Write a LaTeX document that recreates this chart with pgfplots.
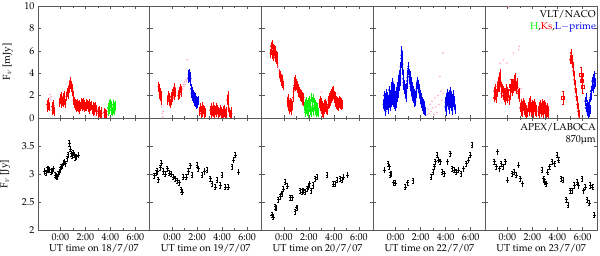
\documentclass[border=0pt]{standalone}
\usepackage[T1]{fontenc}
\usepackage{mathpazo}
\usepackage{xcolor}
\usepackage{pgfplots}
\pgfplotsset{compat=1.18}
\usepgfplotslibrary{groupplots}
\definecolor{ksred}{rgb}{1,0,0}
\definecolor{hgreen}{rgb}{0.05,0.95,0.05}
\definecolor{lblue}{rgb}{0,0,0.95}
\definecolor{pinkish}{rgb}{1,0.68,0.8}
\definecolor{frame}{rgb}{0.35,0.35,0.35}
\pgfplotsset{
  naco/.style={only marks, mark=*, mark size=0.75pt, color=#1,
    error bars/.cd, y dir=both, y fixed=0.4, error mark=none,
    error bar style={line width=0.4pt}},
  faint/.style={only marks, mark=*, mark size=0.6pt, color=pinkish},
  laboca/.style={only marks, mark=+, mark size=1.3pt, color=black,
    mark options={line width=0.5pt},
    error bars/.cd, y dir=both, y fixed=0.045,
    error bar style={line width=0.4pt},
    error mark options={rotate=90, mark size=0.9pt, line width=0.4pt}},
}
\begin{document}
\begin{tikzpicture}
\begin{groupplot}[
  group style={group size=5 by 2, horizontal sep=0pt, vertical sep=0pt,
    x descriptions at=edge bottom, y descriptions at=edge left},
  scale only axis, width=111.8pt, height=112pt,
  xmin=-1.78, xmax=7.16,
  xtick={0,2,4,6}, xticklabels={0:00,2:00,4:00,6:00},
  minor x tick num=1,
  axis line style={frame, line width=0.8pt},
  tick style={frame, line width=0.5pt},
  major tick length=3pt, minor tick length=2pt,
  tick align=inside,
  xlabel style={yshift=3pt},
  ylabel style={yshift=5pt},
]
% ---------------- top row ----------------
\nextgroupplot[ymin=0, ymax=10, ytick={0,2,4,6,8,10}, ylabel={F$_\nu$ [mJy]}]
\addplot[faint] coordinates {(-0.85,1.8) (-0.8,2.1) (-0.76,1.6) (-0.72,1.9)};
\addplot[naco=ksred] coordinates {
(-1.05,1.2) (-1.02,0.9) (-0.99,1.4) (-0.96,1.1) (-0.93,1.3) (-0.9,1.0)
(-0.65,1.0) (-0.62,0.7) (-0.59,1.2) (-0.56,0.8) (-0.53,1.1) (-0.5,0.6)
(-0.05,1.4) (0,1.7) (0.05,1.3) (0.1,1.9) (0.15,1.5) (0.2,1.8) (0.25,1.4) (0.3,2.0) (0.35,1.6) (0.4,1.3)
(0.5,1.9) (0.55,2.3) (0.6,2.1) (0.65,2.5) (0.7,2.6) (0.74,2.9) (0.78,3.3) (0.82,3.0) (0.86,2.7) (0.9,2.9) (0.94,2.4) (0.98,2.6)
(1.02,2.0) (1.06,1.6) (1.1,1.3) (1.14,1.5) (1.18,1.1) (1.22,1.3) (1.26,0.9) (1.3,1.2) (1.34,1.0) (1.38,1.3) (1.42,0.9) (1.46,1.1) (1.5,1.2) (1.54,0.8) (1.58,1.0)
(1.66,1.2) (1.7,1.4) (1.74,1.0) (1.78,1.3) (1.82,1.1) (1.86,1.4) (1.9,0.9) (1.94,1.2) (1.98,1.0)
(2.05,1.3) (2.1,1.0) (2.15,1.2) (2.2,0.9) (2.25,1.1) (2.3,1.3) (2.35,0.8) (2.4,1.0) (2.45,1.1)
(2.55,0.8) (2.6,1.0) (2.65,0.6) (2.7,0.9) (2.75,0.7) (2.8,1.0) (2.85,0.6) (2.9,0.8)
(3.0,0.6) (3.05,0.4) (3.1,0.7) (3.15,0.5) (3.2,0.3) (3.25,0.6) (3.3,0.4)
(3.5,0.5) (3.55,0.2) (3.6,0.4) (3.65,0.1) (3.7,0.3)};
\addplot[naco=hgreen] coordinates {
(3.8,0.9) (3.85,0.6) (3.9,1.2) (3.95,0.8) (4.0,1.3) (4.05,0.7) (4.1,1.1) (4.15,0.6) (4.2,1.2) (4.25,0.8) (4.3,1.0) (4.35,0.7) (4.4,1.1)};

\nextgroupplot[ymin=0, ymax=10, ytick={0,2,4,6,8,10}]
\addplot[faint] coordinates {(-0.82,1.0) (-0.78,0.4) (-0.74,0.1) (-0.7,0.6)
(0.85,2.6) (0.9,3.0) (0.95,2.8) (1.0,3.2) (1.05,3.0) (1.1,3.4) (1.15,3.3) (1.2,5.2) (1.25,3.6)};
\addplot[naco=ksred] coordinates {
(-1.08,2.8) (-1.05,2.4) (-1.02,2.6) (-0.99,2.1) (-0.96,2.3) (-0.93,1.9) (-0.9,2.0) (-0.87,1.6)
(-0.35,1.6) (-0.3,2.0) (-0.25,1.5) (-0.2,1.8) (-0.15,1.3) (-0.1,1.9) (-0.05,1.6) (0,2.2) (0.05,1.8) (0.1,2.4) (0.15,2.0) (0.2,2.7) (0.25,2.3)
(0.5,2.0) (0.55,2.4) (0.6,2.1) (0.65,2.6) (0.7,2.3) (0.75,2.5)
(2.2,0.6) (2.25,0.9) (2.3,0.4) (2.35,0.7) (2.4,1.0) (2.45,0.5) (2.5,0.8) (2.55,0.4) (2.6,0.7) (2.65,0.5)
(3.06,0.7) (3.1,0.4) (3.15,0.9) (3.2,0.6) (3.25,1.0) (3.3,0.5) (3.35,0.8) (3.4,0.4) (3.45,0.7) (3.5,0.9) (3.55,0.5) (3.6,0.8) (3.65,0.4) (3.7,0.6)
(3.8,0.5) (3.85,0.8) (3.9,0.3) (3.95,0.6) (4.0,0.4) (4.05,0.7) (4.1,0.3) (4.15,0.5) (4.2,0.8) (4.25,0.4) (4.3,0.6) (4.35,0.3)
(4.42,1.6) (4.45,2.0) (4.48,1.4) (4.52,0.9)
(4.6,0.5) (4.65,0.3) (4.7,0.6) (4.75,0.4)};
\addplot[naco=lblue] coordinates {
(1.3,3.5) (1.33,3.9) (1.36,3.6) (1.39,4.0) (1.42,3.7) (1.45,3.3) (1.48,3.5)
(1.52,2.6) (1.56,2.2) (1.6,2.4) (1.64,1.9) (1.68,2.1) (1.72,1.7) (1.76,1.9) (1.8,1.5) (1.84,1.8) (1.88,1.4) (1.92,1.6) (1.96,1.2) (2.0,1.5) (2.04,1.3) (2.08,1.6)};

\nextgroupplot[ymin=0, ymax=10, ytick={0,2,4,6,8,10}]
\addplot[faint] coordinates {(-0.45,4.6) (-0.4,4.3) (3.0,2.3) (4.3,2.2)};
\addplot[naco=ksred] coordinates {
(-1.08,5.8) (-1.04,6.4) (-1.0,6.0) (-0.96,6.6) (-0.92,5.7) (-0.88,6.2) (-0.84,5.5) (-0.8,6.1) (-0.76,5.9) (-0.72,5.4) (-0.68,6.0) (-0.64,5.6) (-0.6,5.2) (-0.56,5.5) (-0.52,4.9)
(-0.34,4.0) (-0.3,3.6) (-0.26,3.8) (-0.22,3.3) (-0.18,3.5) (-0.14,3.1) (-0.1,3.4) (-0.06,2.9)
(0.3,1.5) (0.34,1.0) (0.38,1.7) (0.42,1.2) (0.46,0.8) (0.5,1.4) (0.54,0.9) (0.58,1.3) (0.62,0.7) (0.66,1.1)
(0.74,1.8) (0.78,2.4) (0.82,2.9) (0.86,3.3) (0.9,2.8) (0.94,3.4) (0.98,2.9) (1.02,3.1) (1.06,2.6) (1.1,2.9) (1.14,2.3)
(1.18,2.6) (1.22,2.2) (1.26,2.4) (1.3,1.9) (1.34,2.2) (1.38,1.8) (1.42,2.1) (1.46,1.6) (1.5,1.9) (1.54,1.5) (1.58,1.8)
(2.86,1.3) (2.9,1.6) (2.94,1.0) (2.98,1.4) (3.02,0.8) (3.06,1.1) (3.1,0.5) (3.14,0.9) (3.18,0.4) (3.22,0.8) (3.26,1.2) (3.3,0.9) (3.34,1.3) (3.38,0.8) (3.42,1.1) (3.46,0.7)
(3.52,1.2) (3.56,1.6) (3.6,1.3) (3.64,1.8) (3.68,1.5) (3.72,2.0) (3.76,1.7) (3.8,2.2) (3.84,1.9) (3.88,2.4) (3.92,2.1) (3.96,2.5) (4.0,2.0) (4.04,1.7) (4.08,1.9) (4.12,1.4) (4.16,1.6) (4.2,1.2) (4.24,1.5) (4.28,1.1) (4.32,1.4) (4.36,1.0) (4.4,1.3) (4.44,1.6) (4.48,1.2) (4.52,1.5) (4.56,1.1) (4.6,1.4) (4.64,1.2)};
\addplot[naco=hgreen] coordinates {
(1.65,1.0) (1.69,0.5) (1.73,1.3) (1.77,0.8) (1.81,1.5) (1.85,0.6) (1.89,1.2) (1.93,0.4) (1.97,1.4) (2.01,0.9) (2.05,1.6) (2.09,0.7) (2.13,1.3) (2.17,0.5) (2.21,1.8) (2.25,1.0) (2.29,1.5) (2.33,0.6) (2.37,1.7) (2.41,1.1) (2.45,1.4) (2.49,0.7) (2.53,1.2) (2.57,0.5) (2.61,1.0) (2.65,0.6) (2.69,0.9) (2.73,0.5)};

\nextgroupplot[ymin=0, ymax=10, ytick={0,2,4,6,8,10}]
\addplot[faint] coordinates {
(2.5,0.3) (2.58,0.8) (2.66,0.4) (2.74,1.2) (2.82,0.6) (2.9,1.5) (2.98,0.9) (3.06,0.3) (3.14,1.8) (3.22,1.0) (3.3,0.5) (3.38,2.0) (3.46,1.2) (3.54,3.7) (3.62,2.4) (3.7,1.6) (3.78,5.8) (3.8,2.2)};
\addplot[naco=lblue] coordinates {
(-0.96,1.2) (-0.92,2.0) (-0.88,1.0) (-0.84,1.8) (-0.8,0.6) (-0.76,1.5) (-0.72,2.2) (-0.68,1.1) (-0.64,1.9) (-0.6,0.8) (-0.56,1.6) (-0.52,2.5) (-0.48,1.3) (-0.44,2.1) (-0.4,1.0) (-0.36,1.8) (-0.32,2.8) (-0.28,1.6) (-0.24,3.2) (-0.2,2.2) (-0.16,1.4) (-0.12,2.6) (-0.08,1.2) (-0.04,2.0) (0.0,1.0) (0.04,1.7) (0.08,2.4) (0.12,1.8) (0.16,2.8) (0.2,2.2) (0.24,3.4) (0.28,2.8) (0.32,3.9) (0.36,3.3) (0.4,4.6) (0.44,5.3) (0.48,6.0) (0.5,5.6) (0.54,4.8) (0.58,3.9) (0.62,3.2) (0.66,2.6) (0.7,3.0) (0.74,2.2) (0.78,2.6) (0.82,1.8) (0.86,2.4) (0.9,3.0) (0.94,3.6) (0.98,4.2) (1.02,4.6) (1.06,4.0) (1.1,3.4) (1.14,3.8) (1.18,2.8) (1.22,3.3) (1.26,2.4) (1.3,2.8) (1.34,1.9) (1.38,2.5) (1.42,1.7) (1.46,2.2) (1.5,1.4) (1.54,2.0) (1.58,1.5) (1.62,2.2) (1.66,2.6) (1.7,3.0) (1.74,3.3) (1.78,2.7) (1.82,3.0) (1.86,2.3) (1.9,2.6) (1.94,1.8) (1.98,2.1) (2.02,1.3) (2.06,1.8) (2.1,1.0) (2.14,1.5) (2.18,0.8) (2.22,1.3) (2.26,0.7) (2.3,1.1) (2.34,0.6)
(3.97,1.0) (4.01,1.8) (4.05,0.6) (4.09,1.5) (4.13,2.2) (4.17,1.2) (4.21,1.9) (4.25,0.8) (4.29,1.6) (4.33,2.4) (4.37,1.3) (4.41,2.0) (4.45,1.0) (4.49,1.7) (4.53,0.7) (4.57,1.4) (4.61,2.1) (4.65,1.1) (4.69,1.6) (4.73,0.8)};
\addplot[naco=lblue] coordinates {
(-0.94,1.6) (-0.9,1.4) (-0.86,1.3) (-0.82,1.2) (-0.78,1.1) (-0.74,1.9) (-0.7,1.6) (-0.66,1.5) (-0.62,1.3) (-0.58,1.2) (-0.54,2.0) (-0.5,1.9) (-0.46,1.7) (-0.42,1.5) (-0.38,1.4) (-0.34,2.3) (-0.3,2.2) (-0.26,2.4) (-0.22,2.7) (-0.18,1.8) (-0.14,2.0) (-0.1,1.9) (-0.06,1.6) (-0.02,1.5) (0.02,1.3) (0.06,2.0) (0.1,2.1) (0.14,2.3) (0.18,2.5) (0.22,2.8) (0.26,3.1) (0.3,3.3) (0.34,3.6) (0.38,4.0) (0.42,4.9) (0.46,5.6) (0.52,5.2) (0.56,4.3) (0.6,3.5) (0.64,2.9) (0.68,2.8) (0.72,2.6) (0.76,2.4) (0.8,2.2) (0.84,2.1) (0.88,2.7) (0.92,3.3) (0.96,3.9) (1.0,4.4) (1.04,4.3) (1.08,3.7) (1.12,3.6) (1.16,3.3) (1.2,3.0) (1.24,2.8) (1.28,2.6) (1.32,2.3) (1.36,2.2) (1.4,2.1) (1.44,1.9) (1.48,1.8) (1.52,1.7) (1.56,1.7) (1.6,1.8) (1.64,2.4) (1.68,2.8) (1.72,3.1) (1.76,3.0) (1.8,2.8) (1.84,2.6) (1.88,2.4) (1.92,2.2) (1.96,1.9) (2.0,1.7) (2.04,1.5) (2.08,1.4) (2.12,1.2) (2.16,1.1) (2.2,1.0) (2.24,1.0) (2.28,0.9) (2.32,0.8)
(3.99,1.4) (4.03,1.2) (4.07,1.0) (4.11,1.8) (4.15,1.7) (4.19,1.5) (4.23,1.3) (4.27,1.2) (4.31,2.0) (4.35,1.8) (4.39,1.6) (4.43,1.5) (4.47,1.3) (4.51,1.2) (4.55,1.0) (4.59,1.7) (4.63,1.6) (4.67,1.3) (4.71,1.2)};

\nextgroupplot[ymin=0, ymax=10, ytick={0,2,4,6,8,10}]
\addplot[faint] coordinates {(0.09,9.9) (-0.58,4.9) (-0.31,5.2) (-0.05,4.9) (0.49,5.8) (0.89,6.1) (0.93,6.4) (0.8,2.5) (1.1,2.6)};
\addplot[naco=ksred] coordinates {
(-1.1,1.8) (-1.06,2.4) (-1.02,2.0) (-0.98,2.6) (-0.94,2.2) (-0.9,1.7) (-0.86,2.3) (-0.8,2.8) (-0.76,3.2) (-0.72,2.7) (-0.68,3.6) (-0.64,3.0) (-0.6,4.0) (-0.56,3.3) (-0.52,2.8) (-0.48,2.2) (-0.44,2.6) (-0.38,2.0) (-0.34,2.5) (-0.3,1.8) (-0.26,2.3) (-0.22,1.6) (-0.18,2.1) (-0.14,2.6) (-0.1,1.9) (-0.06,2.4) (0.0,1.7) (0.06,2.2) (0.12,1.6) (0.18,2.5) (0.22,2.0) (0.28,2.9) (0.34,2.4) (0.4,3.1) (0.44,2.6) (0.5,3.4) (0.54,2.8) (0.6,3.6) (0.64,3.0) (0.7,2.5) (0.74,3.2) (0.8,2.7) (0.84,2.2) (0.9,1.8) (0.96,2.3)
(1.02,0.9) (1.06,1.3) (1.1,0.6) (1.14,1.1) (1.18,0.5) (1.22,1.0) (1.26,1.4) (1.3,0.7) (1.34,1.2) (1.38,0.5) (1.42,0.9) (1.46,0.4) (1.5,0.8) (1.54,0.5)
(1.68,1.0) (1.72,0.6) (1.76,1.4) (1.8,0.9) (1.84,1.6) (1.88,1.0) (1.92,0.5) (1.96,1.2) (2.0,0.7) (2.04,1.1) (2.08,0.4) (2.12,0.9) (2.16,1.3) (2.2,0.6) (2.24,1.0) (2.28,0.5) (2.32,0.8)
(2.48,0.6) (2.52,1.0) (2.56,0.4) (2.6,0.8) (2.64,1.2) (2.68,0.5) (2.72,0.9) (2.76,1.3) (2.8,0.7) (2.84,1.1) (2.88,0.4) (2.92,0.8) (2.96,1.2) (3.0,0.6) (3.04,1.0) (3.08,0.4) (3.12,0.8) (3.16,0.5) (3.2,0.9) (3.24,0.4) (3.28,0.7)
(5.02,5.2) (5.06,5.8) (5.1,5.4) (5.14,4.9) (5.18,5.2) (5.22,4.6) (5.26,4.2) (5.3,3.8) (5.34,3.4) (5.38,3.0) (5.42,2.6) (5.46,2.3) (5.5,1.9) (5.54,1.6) (5.58,1.2) (5.62,0.9) (5.66,0.6) (5.7,0.3) (5.74,0.1)};
\addplot[only marks, mark=square, mark size=1.6pt, color=ksred,
  error bars/.cd, y dir=both, y fixed=0.6, error mark=-,
  error bar style={line width=0.4pt}, error mark options={rotate=90, mark size=1pt}]
  coordinates {(-0.64,3.0) (0.28,2.9) (0.6,3.1) (4.42,1.8) (5.9,3.9) (5.95,3.3) (6.0,2.8)};
\addplot[naco=lblue] coordinates {
(6.22,1.5) (6.26,0.9) (6.3,1.8) (6.34,0.6) (6.38,1.2) (6.42,0.4) (6.46,1.0) (6.5,0.5) (6.54,1.3) (6.58,0.8) (6.62,1.8) (6.66,2.4) (6.7,2.0) (6.74,2.8) (6.78,3.3) (6.82,2.6) (6.86,3.5) (6.9,3.0) (6.94,3.8) (6.98,3.2)};
\node[anchor=north east, align=right, inner sep=1pt, yshift=-3pt] at (rel axis cs:1,1)
  {VLT/NACO\\\textcolor{hgreen}{H},\textcolor{ksred}{Ks},\textcolor{lblue}{L$-$prime}};
% ---------------- bottom row ----------------
\nextgroupplot[ymin=2, ymax=4, ytick={2,2.5,3,3.5}, ylabel={F$_\nu$ [Jy]}, xlabel={UT time on 18/7/07}]
\addplot[laboca] coordinates {
(-1.26,3.05) (-1.16,3.02) (-1.07,3.07) (-0.97,3.1) (-0.88,3.08) (-0.75,3.04) (-0.65,3.06) (-0.54,3.1) (-0.4,2.98) (-0.33,2.97) (-0.26,2.95) (-0.16,3.0) (-0.06,3.04) (0.0,3.08) (0.08,3.13) (0.18,3.15) (0.26,3.2) (0.34,3.22) (0.42,3.19) (0.54,3.28) (0.63,3.35) (0.72,3.55) (0.8,3.45) (0.86,3.37) (0.94,3.32) (1.02,3.38) (1.12,3.34) (1.2,3.3) (1.28,3.31) (1.46,3.34)};

\nextgroupplot[ymin=2, ymax=4, ytick={2,2.5,3,3.5}, xlabel={UT time on 19/7/07}]
\addplot[laboca] coordinates {
(-1.42,2.97) (-1.3,3.02) (-1.18,3.05) (-1.1,2.9) (-0.94,3.12) (-0.86,3.2) (-0.7,3.05) (-0.54,3.0) (-0.38,3.1) (-0.22,3.02) (-0.06,3.0) (0.1,2.95) (0.26,2.92) (0.42,2.88) (0.58,2.85) (0.74,2.72) (0.82,2.68) (0.9,2.95) (1.14,2.95) (1.3,3.05) (1.46,3.15) (1.59,2.98) (1.99,3.16) (2.1,3.1) (2.39,2.98) (2.6,3.05) (2.79,3.07) (3.06,2.92) (3.19,2.83) (3.46,2.77) (3.59,2.89) (3.86,2.8) (3.99,2.98) (4.26,2.77) (4.5,2.77) (4.79,3.13) (4.92,3.25) (5.06,3.34) (5.32,3.04)};

\nextgroupplot[ymin=2, ymax=4, ytick={2,2.5,3,3.5}, xlabel={UT time on 20/7/07}]
\addplot[laboca] coordinates {
(-0.97,2.27) (-0.84,2.23) (-0.7,2.42) (-0.62,2.39) (-0.44,2.54) (-0.3,2.6) (-0.17,2.65) (-0.04,2.73) (0.1,2.86) (0.28,2.79) (0.5,2.58) (0.68,2.58) (0.9,2.33) (1.03,2.4) (1.3,2.71) (1.44,2.68) (1.56,2.71) (1.7,2.68) (1.84,2.74) (1.97,2.77) (2.05,2.83) (2.16,2.71) (2.32,2.8) (2.5,2.92) (2.64,2.95) (3.44,2.98) (3.92,2.82) (4.1,2.82) (4.24,2.89) (4.5,2.92) (4.64,2.89) (4.77,2.95) (5.09,2.98)};

\nextgroupplot[ymin=2, ymax=4, ytick={2,2.5,3,3.5}, xlabel={UT time on 22/7/07}]
\addplot[laboca] coordinates {
(-0.89,3.07) (-0.62,3.19) (-0.51,3.13) (-0.43,2.98) (-0.37,3.01) (-0.16,2.85) (-0.03,2.84) (0.77,2.77) (0.96,2.85) (1.38,2.88) (2.82,2.95) (2.98,3.04) (3.09,3.13) (3.17,3.22) (3.3,3.34) (3.43,3.25) (3.57,3.22) (3.7,3.04) (3.89,3.01) (4.15,3.22) (4.37,3.37) (4.5,3.1) (4.69,3.07) (4.85,3.04) (5.03,3.07) (5.22,3.01) (5.43,3.1) (5.65,3.19) (5.83,3.25) (5.97,3.34) (6.1,3.52)};

\nextgroupplot[ymin=2, ymax=4, ytick={2,2.5,3,3.5}, xlabel={UT time on 23/7/07}]
\addplot[laboca] coordinates {
(-1.06,3.22) (-0.9,3.13) (-0.79,3.4) (-0.63,3.1) (-0.52,3.19) (-0.36,3.13) (-0.18,3.22) (0.0,2.89) (0.36,3.01) (0.54,3.04) (0.7,2.98) (0.89,3.16) (1.02,2.92) (1.21,2.83) (2.76,3.07) (2.89,2.92) (2.97,2.86) (3.1,2.83) (3.21,3.04) (3.37,3.13) (3.56,3.22) (3.77,3.19) (3.96,3.34) (4.09,3.25) (4.28,2.92) (4.44,2.89) (4.7,2.54) (4.84,2.45) (5.02,2.71) (5.16,2.71) (5.34,2.8) (5.55,2.86) (5.68,2.8) (5.95,2.92) (6.08,2.71) (6.22,2.77) (6.36,2.54) (6.54,2.48) (6.62,2.8) (6.81,2.77) (6.94,2.27)};
\node[anchor=north east, align=right, inner sep=1pt, yshift=-4pt] at (rel axis cs:1,1)
  {APEX/LABOCA\\870\textmu m};
\end{groupplot}
\pgfresetboundingbox
\path[use as bounding box] ([xshift=-38pt,yshift=6pt]group c1r1.north west) rectangle ([xshift=3pt,yshift=-26pt]group c5r2.south east);
\end{tikzpicture}
\end{document}
